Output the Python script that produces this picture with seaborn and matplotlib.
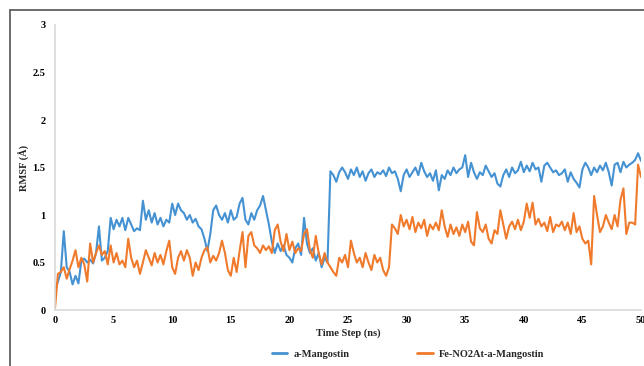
import numpy as np
import pandas as pd
import seaborn as sns
import matplotlib.pyplot as plt
from matplotlib.lines import Line2D
from matplotlib.ticker import FuncFormatter

# RMSF (Å) every 0.25 ns, 0 -> 50 ns
mangostin = [
    0.20, 0.30, 0.40, 0.83, 0.45, 0.40, 0.27, 0.36, 0.28, 0.52,
    0.54, 0.50, 0.53, 0.49, 0.60, 0.88, 0.52, 0.55, 0.62, 0.97,
    0.85, 0.95, 0.88, 0.97, 0.84, 0.97, 0.90, 0.83, 0.86, 0.84,
    1.15, 0.95, 1.05, 0.92, 1.02, 0.90, 0.97, 0.88, 0.95, 0.92,
    1.12, 1.00, 1.12, 1.05, 1.02, 0.95, 1.00, 0.92, 0.96, 0.88,
    0.85, 0.75, 0.62, 0.80, 1.05, 1.10, 1.00, 0.95, 1.02, 0.92,
    1.05, 0.95, 0.98, 1.12, 1.18, 0.95, 0.90, 1.02, 0.95, 1.05,
    1.10, 1.20, 1.05, 0.90, 0.72, 0.60, 0.70, 0.62, 0.68, 0.58,
    0.55, 0.50, 0.65, 0.70, 0.58, 0.97, 0.70, 0.60, 0.65, 0.52,
    0.60, 0.45, 0.55, 0.50, 1.46, 1.42, 1.35, 1.45, 1.50, 1.45,
    1.38, 1.48, 1.42, 1.50, 1.40, 1.46, 1.36, 1.44, 1.48, 1.40,
    1.45, 1.43, 1.47, 1.41, 1.50, 1.44, 1.46, 1.38, 1.25, 1.42,
    1.48, 1.40, 1.45, 1.50, 1.42, 1.55, 1.46, 1.40, 1.44, 1.36,
    1.47, 1.26, 1.42, 1.38, 1.47, 1.42, 1.50, 1.44, 1.48, 1.50,
    1.63, 1.40, 1.55, 1.45, 1.38, 1.45, 1.42, 1.52, 1.46, 1.40,
    1.44, 1.33, 1.30, 1.42, 1.48, 1.40, 1.50, 1.44, 1.47, 1.56,
    1.45, 1.52, 1.46, 1.55, 1.48, 1.50, 1.35, 1.52, 1.55, 1.50,
    1.45, 1.47, 1.42, 1.44, 1.48, 1.35, 1.45, 1.38, 1.34, 1.29,
    1.48, 1.55, 1.50, 1.42, 1.50, 1.45, 1.52, 1.47, 1.55, 1.45,
    1.31, 1.53, 1.55, 1.45, 1.56, 1.50, 1.53, 1.55, 1.58, 1.65,
    1.57,
]
fe_complex = [
    0.02, 0.38, 0.40, 0.45, 0.33, 0.43, 0.52, 0.63, 0.45, 0.55,
    0.48, 0.30, 0.70, 0.50, 0.60, 0.68, 0.58, 0.62, 0.48, 0.68,
    0.50, 0.60, 0.48, 0.52, 0.45, 0.75, 0.55, 0.45, 0.52, 0.38,
    0.50, 0.63, 0.55, 0.47, 0.60, 0.50, 0.58, 0.48, 0.62, 0.73,
    0.45, 0.38, 0.55, 0.62, 0.52, 0.63, 0.55, 0.36, 0.50, 0.42,
    0.55, 0.63, 0.66, 0.50, 0.57, 0.52, 0.60, 0.73, 0.60, 0.42,
    0.36, 0.55, 0.40, 0.62, 0.82, 0.45, 0.78, 0.82, 0.68, 0.65,
    0.60, 0.68, 0.63, 0.67, 0.60, 0.84, 0.90, 0.72, 0.62, 0.80,
    0.63, 0.72, 0.60, 0.65, 0.62, 0.80, 0.85, 0.63, 0.55, 0.78,
    0.60, 0.48, 0.60, 0.50, 0.45, 0.40, 0.36, 0.55, 0.50, 0.58,
    0.45, 0.73, 0.60, 0.50, 0.55, 0.45, 0.60, 0.50, 0.42, 0.58,
    0.50, 0.55, 0.42, 0.36, 0.45, 0.90, 0.86, 0.80, 1.00, 0.88,
    0.95, 0.85, 0.98, 0.82, 0.92, 0.86, 0.95, 0.78, 0.90, 0.85,
    0.92, 0.84, 1.05, 0.88, 0.77, 0.90, 0.80, 0.87, 0.78, 0.90,
    0.82, 0.93, 0.72, 0.68, 1.03, 0.86, 0.82, 0.90, 0.75, 0.70,
    0.84, 0.80, 1.05, 0.90, 0.75, 0.88, 0.93, 0.85, 0.95, 0.84,
    0.93, 1.12, 0.97, 1.13, 0.90, 0.96, 0.88, 0.92, 0.83, 0.98,
    0.82, 0.90, 0.88, 0.93, 0.84, 0.92, 0.80, 1.02, 0.82, 0.88,
    0.75, 0.70, 0.73, 0.48, 1.20, 1.00, 0.82, 0.88, 1.00, 0.92,
    0.85, 1.00, 0.88, 1.16, 1.28, 0.80, 0.92, 0.92, 0.90, 1.53,
    1.40,
]
time_ns = np.linspace(0, 50, len(mangostin))
labels = ["a-Mangostin", "Fe-NO2At-a-Mangostin"]
colors = ["#4592d3", "#f07a2c"]

df = pd.DataFrame({
    "time": np.concatenate([time_ns, time_ns]),
    "rmsf": mangostin + fe_complex,
    "series": [labels[0]] * len(mangostin) + [labels[1]] * len(fe_complex),
})

sns.set_theme(style="white")
plt.rcParams["font.family"] = ["Liberation Serif", "DejaVu Serif"]
plt.rcParams["font.weight"] = "bold"

fig = plt.figure(figsize=(6.44, 3.66), dpi=100)
ax = fig.add_axes([55 / 644, 1 - 310 / 366, 586 / 644, 285 / 366])

sns.lineplot(data=df, x="time", y="rmsf", hue="series", palette=colors,
             linewidth=1.5, ax=ax, legend=False, sort=False)

ax.set_xlim(0, 50)
ax.set_ylim(0, 3)
ax.set_xticks(range(0, 51, 5))
ax.set_yticks([0, 0.5, 1, 1.5, 2, 2.5, 3])
ax.yaxis.set_major_formatter(FuncFormatter(lambda v, p: f"{v:g}"))
ax.tick_params(axis="both", length=0, labelsize=7.5, colors="black")
ax.tick_params(axis="y", pad=7)
ax.tick_params(axis="x", pad=4)
for lab in ax.get_xticklabels() + ax.get_yticklabels():
    lab.set_fontweight("bold")

ax.set_xlabel("Time Step (ns)", fontsize=7.5, fontweight="bold", labelpad=3)
ax.set_ylabel("RMSF (Å)", fontsize=7.5, fontweight="bold", labelpad=1.5)

for side in ["top", "right"]:
    ax.spines[side].set_visible(False)
for side in ["left", "bottom"]:
    ax.spines[side].set_color("#d9d9d9")
    ax.spines[side].set_linewidth(1.2)

handles = [Line2D([0], [0], color=c, lw=2) for c in colors]
fig.legend(handles, labels, loc="center", bbox_to_anchor=(408 / 644, 1 - 354 / 366),
           ncol=2, frameon=False, handlelength=1.5,
           handletextpad=0.6, columnspacing=6.5, prop={"weight": "bold", "size": 7.5})

# outer chart border (only left and top edges are in the crop)
fig.add_artist(Line2D([10 / 644, 10 / 644], [0, 1 - 10 / 366], color="#606060", lw=1.3,
                      transform=fig.transFigure))
fig.add_artist(Line2D([10 / 644, 1], [1 - 10 / 366, 1 - 10 / 366], color="#606060", lw=1.3,
                      transform=fig.transFigure))

fig.savefig("out.png", dpi=100)
plt.close(fig)
